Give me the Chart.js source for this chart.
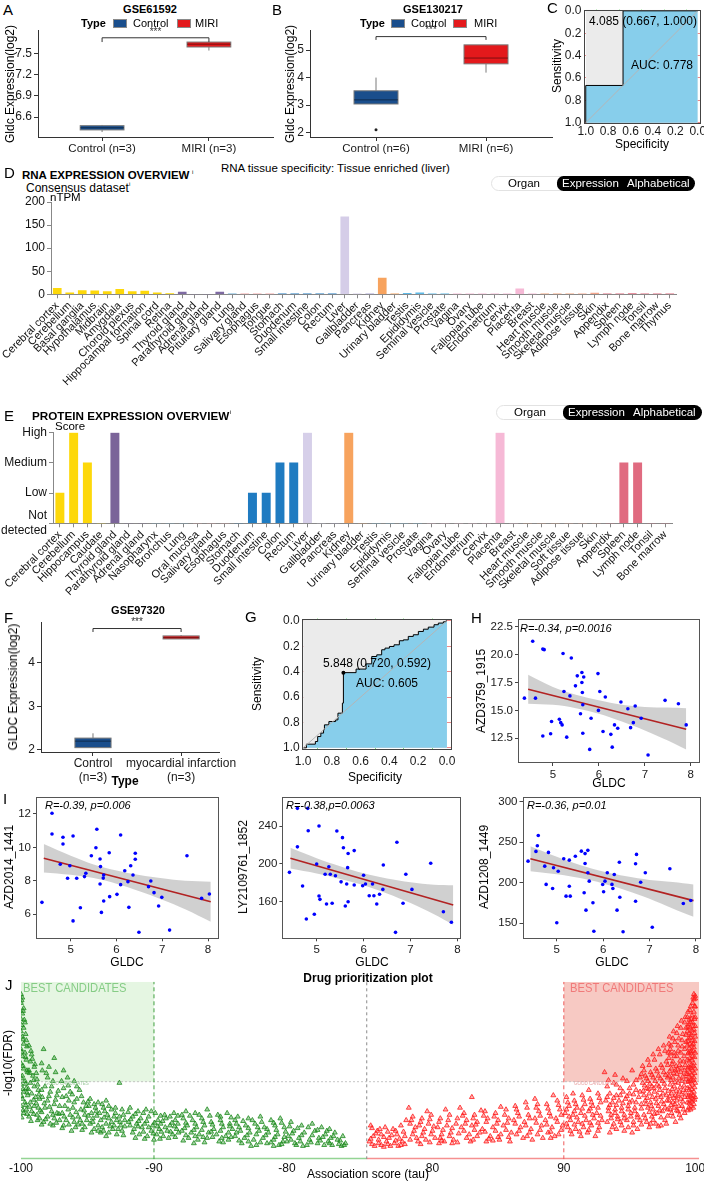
<!DOCTYPE html>
<html><head><meta charset="utf-8">
<script src="https://cdn.jsdelivr.net/npm/chart.js@4.4.1/dist/chart.umd.min.js"></script>
<style>
html,body{margin:0;padding:0;background:#fff}
body{position:relative;width:704px;height:1181px;overflow:hidden;font-family:"Liberation Sans",Arial,sans-serif;color:#000}
canvas{position:absolute}
.t{position:absolute;white-space:nowrap;line-height:1}
.key{position:absolute;box-sizing:border-box;border:1px solid #8a8a8a;width:14px;height:9px}
.pill{position:absolute;box-sizing:border-box;height:15px}
</style></head><body>
<script>
Chart.defaults.font.family='"Liberation Sans", Arial, sans-serif';
Chart.defaults.font.size=12;
Chart.defaults.color='#1a1a1a';
Chart.defaults.animation=false;

// ---------- A, B, F : box plots (lo, q1, median, q3, hi) ----------
const groupsA=['Control (n=3)','MIRI (n=3)'];
const statsA=[[6.39,6.42,6.45,6.48,6.49],[7.54,7.59,7.63,7.66,7.66]];
const ticksA=[6.6,6.9,7.2,7.5];
const bracketA=[7.72,7.66];

const groupsB=['Control (n=6)','MIRI (n=6)'];
const statsB=[[3.04,3.04,3.19,3.52,4.0],[4.18,4.5,4.71,5.19,5.19]];
const outliersB=[[1,2.1]];
const ticksB=[2,3,4,5];
const bracketB=[5.49,5.37];

const groupsF=[['Control','(n=3)'],['myocardial infarction','(n=3)']];
const statsF=[[2.05,2.05,2.2,2.27,2.38],[4.55,4.55,4.58,4.62,4.64]];
const ticksF=[2,3,4];
const bracketF=[4.79,4.71];
const typeColors=['#1a4e8c','#e3191c'];

// ---------- C, G : ROC curves (specificity, plotted sensitivity axis) ----------
const rocC=[[1,1],[1,0.667],[0.667,0.667],[0.667,0],[0,0]];
const rocG=[[1,1],[0.977,1],[0.977,0.971],[0.915,0.971],[0.915,0.95],[0.899,0.95],[0.899,0.911],[0.877,0.911],[0.877,0.884],[0.858,0.884],[0.858,0.858],[0.852,0.858],[0.852,0.819],[0.821,0.819],[0.821,0.793],[0.774,0.793],[0.774,0.78],[0.758,0.78],[0.758,0.727],[0.727,0.727],[0.727,0.648],[0.72,0.648],[0.72,0.408],[0.632,0.408],[0.632,0.38],[0.5625,0.38],[0.5625,0.339],[0.523,0.339],[0.523,0.281],[0.488,0.281],[0.488,0.268],[0.454,0.268],[0.454,0.228],[0.431,0.228],[0.431,0.215],[0.4,0.215],[0.4,0.202],[0.368,0.202],[0.368,0.189],[0.331,0.189],[0.331,0.157],[0.303,0.157],[0.303,0.15],[0.269,0.15],[0.269,0.123],[0.234,0.123],[0.234,0.11],[0.199,0.11],[0.199,0.084],[0.164,0.084],[0.164,0.066],[0.13,0.066],[0.13,0.05],[0.09,0.05],[0.09,0.031],[0.06,0.031],[0.06,0.018],[0.025,0.018],[0.025,0.008],[0.007,0.008],[0.007,0],[0,0]];
const cutG=[0.72,0.408];
const rocTicks=[1,0.9,0.8,0.7,0.6,0.5,0.4,0.3,0.2,0.1,0];
const sensTicks=[0,0.2,0.4,0.6,0.8,1];

// ---------- D : RNA expression (nTPM) ----------
const rnaTissues=['Cerebral cortex','Cerebellum','Basal ganglia','Hypothalamus','Midbrain','Amygdala','Choroid plexus','Hippocampal formation','Spinal cord','Retina','Thyroid gland','Parathyroid gland','Adrenal gland','Pituitary gland','Lung','Salivary gland','Esophagus','Tongue','Stomach','Duodenum','Small intestine','Colon','Rectum','Liver','Gallbladder','Pancreas','Kidney','Urinary bladder','Testis','Epididymis','Seminal vesicle','Prostate','Vagina','Ovary','Fallopian tube','Endometrium','Cervix','Placenta','Breast','Heart muscle','Smooth muscle','Skeletal muscle','Adipose tissue','Skin','Appendix','Spleen','Lymph node','Tonsil','Bone marrow','Thymus'];
const rnaValues=[13,3,8,7.5,6,11,6,7,3,1.5,5,0,0,5,0.5,0.3,1.2,0.5,0.6,0.5,0.5,0.8,0.5,168,0.5,0.3,35,0.5,2,3,0.3,0.3,0.3,0.3,0.3,0.3,0.3,12,0.3,0.3,0.3,0.8,1,2.5,1,0.5,1.5,1,0.3,0.3];
const rnaTicks=[0,50,100,150,200];
const Y='#fdd80a',P='#7e6aa2',RS='#6baed6',PD='#f4a6a6',GI='#1f7bc1',LV='#d5cde8',PC='#a9a3d3',KD='#f7a35e',ML='#5dbae8',FM='#f6b9d6',MU='#f1a37d',SK='#f5a68c',IM='#e06b7f';
const rnaColors=[Y,Y,Y,Y,Y,Y,Y,Y,Y,Y,P,P,P,P,RS,PD,PD,PD,GI,GI,GI,GI,GI,LV,LV,PC,KD,KD,ML,ML,ML,ML,FM,FM,FM,FM,FM,FM,FM,MU,MU,MU,SK,SK,IM,IM,IM,IM,IM,IM];

// ---------- E : protein expression score ----------
const protTissues=['Cerebral cortex','Cerebellum','Hippocampus','Caudate','Thyroid gland','Parathyroid gland','Adrenal gland','Nasopharynx','Bronchus','Lung','Oral mucosa','Salivary gland','Esophagus','Stomach','Duodenum','Small intestine','Colon','Rectum','Liver','Gallbladder','Pancreas','Kidney','Urinary bladder','Testis','Epididymis','Seminal vesicle','Prostate','Vagina','Ovary','Fallopian tube','Endometrium','Cervix','Placenta','Breast','Heart muscle','Smooth muscle','Skeletal muscle','Soft tissue','Adipose tissue','Skin','Appendix','Spleen','Lymph node','Tonsil','Bone marrow'];
const protScores=[1,3,2,0,3,0,0,0,0,0,0,0,0,0,1,1,2,2,3,0,0,3,0,0,0,0,0,0,0,0,0,0,3,0,0,0,0,0,0,0,0,2,2,0,0];
const protLevels=[['Not','detected'],'Low','Medium','High'];
const P2='#7b6499',LV2='#d6cfe9',IM2='#e06b80';
const protColors=[Y,Y,Y,Y,P2,P2,P2,RS,RS,RS,PD,PD,PD,GI,GI,GI,GI,GI,LV2,LV2,PC,KD,KD,ML,ML,ML,ML,FM,FM,FM,FM,FM,FM,FM,MU,MU,MU,SK,SK,SK,IM2,IM2,IM2,IM2,IM2];

// ---------- H, I : correlation scatter (GLDC vs drug sensitivity) ----------
const gldcTicks=[5,6,7,8];
const ptsH=[[4.56,21.2],[4.78,20.5],[4.81,20.45],[5.22,20.1],[5.4,19.7],[5.53,18.1],[5.63,18.4],[5.63,17.5],[5.67,18.0],[5.49,17.2],[5.98,18.3],[5.64,16.6],[5.24,16.7],[6.02,16.7],[6.14,16.2],[4.38,16.1],[4.62,16.1],[5.37,16.3],[5.65,15.5],[5.99,15.0],[6.48,15.75],[6.63,15.15],[6.79,15.4],[6.92,14.3],[7.44,15.9],[7.73,15.6],[7.9,13.7],[5.6,14.7],[5.83,14.3],[5.14,14.2],[5.17,13.9],[4.97,14.0],[4.95,12.9],[4.78,12.7],[5.3,12.6],[5.2,13.7],[5.65,12.95],[6.09,13.1],[6.26,12.85],[6.34,13.7],[6.41,13.4],[6.69,13.45],[6.75,13.9],[5.8,11.5],[6.29,11.7],[7.07,11.0]];
const fitH=[[4.46,16.9],[7.9,13.3]];
const bandXH=[4.46,5.0,5.5,6.0,6.5,7.0,7.5,7.9];
const bandUpH=[18.2,17.1,16.4,15.9,15.5,15.3,15.25,15.2];
const bandLoH=[15.6,15.5,15.2,14.7,14.0,13.2,12.3,11.5];
const ticksH=[12.5,15,17.5,20,22.5];

const ptsI1=[[4.59,12.04],[4.59,10.8],[4.83,10.6],[4.83,10.2],[5.05,10.68],[5.57,11.08],[5.55,9.98],[5.45,9.5],[5.84,9.68],[6.09,10.74],[6.41,9.65],[6.41,9.29],[6.31,8.9],[7.54,9.5],[5.64,9.3],[5.65,8.85],[4.77,8.99],[4.98,8.9],[6.18,8.6],[6.36,8.35],[5.33,8.45],[5.3,8.25],[4.93,8.15],[5.13,8.15],[5.72,8.35],[5.71,8.16],[4.37,6.71],[5.21,6.39],[5.05,5.6],[5.64,7.81],[5.72,6.79],[5.67,6.11],[5.85,7.05],[6.01,7.19],[6.09,7.77],[6.25,7.95],[6.27,6.41],[6.7,7.65],[6.75,7.99],[6.82,7.29],[6.99,7.01],[6.92,6.49],[6.49,4.92],[7.16,5.05],[7.86,6.95],[8.03,7.21]];
const fitI1=[[4.41,9.35],[8.06,6.75]];
const bandXI1=[4.41,5.0,5.5,6.0,6.5,7.0,7.5,8.06];
const bandUpI1=[10.2,9.5,8.98,8.62,8.35,8.15,8.0,7.95];
const bandLoI1=[8.5,8.36,8.16,7.82,7.37,6.87,6.3,5.55];
const ticksI1=[6,8,10,12];

const ptsI2=[[4.59,258.7],[4.81,258.7],[4.82,235],[5.05,240],[4.59,218],[5.43,234.7],[5.55,227.7],[5.57,217],[5.67,211],[5.8,214],[6.71,222.8],[7.43,200.6],[6.42,198.8],[5.0,199.8],[5.26,197],[4.42,191],[5.18,189],[5.29,189],[5.4,187.5],[5.66,196],[6.0,188],[6.9,189],[4.7,176.6],[5.05,166],[5.07,162.5],[4.95,146.7],[4.78,141.7],[5.21,157.5],[5.33,158.3],[5.52,181],[5.64,178.7],[5.8,177.6],[5.98,176.9],[6.04,178.7],[6.19,178.7],[6.22,166.3],[6.12,166.3],[6.34,167.8],[6.28,157.5],[5.61,155.4],[5.67,160],[6.41,173],[6.84,158.3],[6.68,127.6],[7.03,173],[7.7,149.4],[7.87,138.2]];
const fitI2=[[4.44,205.9],[7.91,156.5]];
const bandXI2=[4.44,5.0,5.5,6.0,6.5,7.0,7.5,7.91];
const bandUpI2=[217,206,197.5,190,184.5,180.5,178,177.5];
const bandLoI2=[195,189.8,184.1,177.4,168.7,158.5,146.6,135.5];
const ticksI2=[160,200,240];

const ptsI3=[[4.6,258.4],[4.58,245.7],[4.55,238.7],[4.82,237.5],[4.38,226.7],[5.15,229.6],[5.27,227.9],[5.4,232.8],[5.53,239],[5.61,236],[5.67,240],[5.61,223.8],[5.67,212.3],[6.35,225.4],[6.7,223.5],[6.72,235],[6.91,212.3],[7.44,217.3],[4.74,220.5],[4.93,218.5],[5.03,214.3],[6.09,212.3],[6.24,210.2],[4.77,198],[4.91,193],[5.2,183.5],[5.29,183.5],[5.27,195.8],[5.59,187.7],[5.63,166.2],[5.7,202],[5.78,175.3],[6.01,188.9],[5.99,197.9],[6.04,202],[6.19,198],[6.21,193],[6.36,182.2],[6.3,166.2],[6.7,177.3],[6.81,200.7],[5.0,150.6],[5.8,140.2],[6.43,139.5],[7.06,145.2],[7.73,174.4],[7.89,178.1]];
const fitI3=[[4.43,229.6],[7.95,178]];
const bandXI3=[4.43,5.0,5.5,6.0,6.5,7.0,7.5,7.95];
const bandUpI3=[245,232,222,214,208,203.5,201,198];
const bandLoI3=[214.2,210.4,205.8,199.2,190.6,180.3,168.2,158];
const ticksI3=[150,200,250,300];

// ---------- J : drug prioritization (tau, -log10 FDR) ----------
const tauTicks=[-100,-90,-80,80,90,100];
const fdrCut=4.37;
const greenPts=[[-100,9.3],[-99.9,9.1],[-100,8.8],[-99.8,8.5],[-99.9,8.2],[-100,7.9],[-99.7,7.7],[-99.8,7.4],[-100,7.2],[-99.9,6.9],[-99.6,6.7],[-99.8,6.5],[-100,6.2],[-99.7,6.0],[-99.9,5.8],[-99.6,5.6],[-100,5.4],[-99.8,5.1],[-99.5,4.9],[-99.9,4.7],[-99.7,4.4],[-100,4.2],[-99.6,4.0],[-99.8,3.8],[-99.5,3.6],[-99.9,3.4],[-99.7,3.2],[-100,3.0],[-99.6,2.8],[-99.8,2.6],
[-99.4,6.4],[-99.2,5.9],[-99.3,5.5],[-99.0,5.2],[-99.4,5.0],[-99.1,4.7],[-98.8,4.5],[-99.3,4.3],[-99.0,4.1],[-98.7,3.9],[-99.2,3.7],[-98.9,3.5],[-98.6,3.4],[-99.3,3.2],[-99.0,3.0],[-98.7,2.9],[-99.2,2.7],[-98.8,2.5],[-99.4,2.4],[-98.6,2.3],
[-98.3,6.2],[-97.5,5.7],[-98.4,5.0],[-98.0,4.6],[-97.6,4.4],[-98.2,4.1],[-97.8,3.8],[-97.3,3.6],[-98.4,3.5],[-98.0,3.3],[-97.5,3.1],[-97.1,3.0],[-98.2,2.9],[-97.7,2.7],[-97.3,2.6],[-98.0,2.4],[-97.5,2.3],[-97.1,2.2],[-98.3,2.1],[-97.8,2.0],
[-96.8,5.0],[-96.5,4.6],[-96.0,4.4],[-96.8,4.0],[-96.3,3.8],[-95.6,3.9],[-96.9,3.5],[-96.4,3.3],[-95.8,3.4],[-95.3,3.2],[-96.7,3.0],[-96.1,2.9],[-95.5,2.8],[-96.9,2.6],[-96.3,2.5],[-95.7,2.4],[-95.2,2.5],[-96.6,2.2],[-96.0,2.1],[-95.4,2.0],[-96.8,1.9],[-95.9,1.8],[-95.2,1.8],
[-94.8,3.4],[-94.2,3.2],[-93.6,3.3],[-94.9,3.0],[-94.4,2.9],[-93.8,2.9],[-93.2,2.8],[-92.6,4.3],[-94.7,2.6],[-94.1,2.6],[-93.5,2.5],[-92.9,2.6],[-92.3,2.5],[-94.6,2.3],[-94.0,2.2],[-93.4,2.3],[-92.8,2.2],[-92.2,2.2],[-94.8,2.0],[-94.2,1.9],[-93.6,2.0],[-93.0,1.9],[-92.5,1.9],[-94.5,1.7],[-93.8,1.6],[-93.1,1.7],[-92.4,1.6],[-94.0,1.5],[-92.8,1.4],
[-91.8,2.9],[-91.2,2.7],[-90.6,2.8],[-89.9,2.6],[-89.2,2.5],[-88.5,2.6],[-91.6,2.4],[-91.0,2.3],[-90.4,2.4],[-89.7,2.2],[-89.1,2.3],[-88.4,2.2],[-91.9,2.1],[-91.3,2.0],[-90.7,2.0],[-90.1,1.9],[-89.5,2.0],[-88.8,1.9],[-88.2,2.0],[-91.5,1.7],[-90.9,1.8],[-90.2,1.6],[-89.6,1.7],[-89.0,1.6],[-88.3,1.7],[-91.1,1.4],[-90.5,1.3],[-89.8,1.4],[-89.3,1.3],[-88.6,1.4],[-90.0,1.1],[-88.9,1.2],
[-87.6,2.7],[-86.9,2.6],[-86.0,2.8],[-85.2,2.5],[-84.5,2.6],[-87.8,2.3],[-87.1,2.2],[-86.4,2.3],[-85.7,2.1],[-85.0,2.2],[-84.3,2.0],[-87.5,1.9],[-86.8,1.8],[-86.2,1.9],[-85.5,1.7],[-84.8,1.8],[-84.1,1.7],[-87.9,1.6],[-87.2,1.5],[-86.6,1.4],[-85.9,1.5],[-85.3,1.4],[-84.6,1.3],[-87.4,1.2],[-86.7,1.1],[-86.0,1.2],[-85.1,1.0],[-84.4,1.1],[-87.0,0.9],
[-83.7,2.4],[-82.9,2.3],[-82.0,2.4],[-81.2,2.2],[-80.5,2.3],[-83.8,2.0],[-83.1,1.9],[-82.4,2.0],[-81.7,1.8],[-80.9,1.9],[-80.2,1.8],[-83.5,1.6],[-82.8,1.5],[-82.1,1.6],[-81.4,1.5],[-80.7,1.4],[-83.9,1.3],[-83.2,1.2],[-82.5,1.1],[-81.8,1.2],[-81.0,1.1],[-80.3,1.0],[-83.4,0.9],[-82.3,0.8],[-81.5,0.9],[-80.6,0.8],
[-79.7,2.1],[-78.9,1.9],[-78.1,2.0],[-77.4,1.8],[-76.8,1.7],[-79.5,1.6],[-78.7,1.5],[-77.9,1.6],[-77.1,1.4],[-76.4,1.5],[-75.8,1.3],[-79.9,1.3],[-79.1,1.2],[-78.3,1.1],[-77.6,1.2],[-76.9,1.0],[-76.2,1.1],[-75.6,0.9],[-79.4,0.9],[-78.5,0.8],[-77.7,0.9],[-76.6,0.8],[-75.9,0.75],[-80.0,1.0],
[-99.95,8.95],[-99.85,8.35],[-99.75,7.85],[-99.95,7.55],[-99.65,7.05],[-99.85,6.75],[-99.55,6.35],[-99.95,6.05],[-99.65,5.75],[-99.85,5.25],[-99.55,5.0],[-99.95,4.55],[-99.65,4.25],[-99.85,3.95],[-99.55,3.75],[-99.95,3.55],[-99.65,3.05],[-99.85,2.75],[-99.55,2.55],[-99.95,2.35],
[-99.25,6.1],[-99.15,5.65],[-98.95,5.35],[-99.35,4.85],[-98.85,4.85],[-99.05,4.45],[-98.75,4.2],[-99.45,3.95],[-98.65,3.65],[-99.05,3.35],[-98.85,3.15],[-99.35,2.95],[-98.55,2.75],[-99.05,2.55],[-98.75,2.2],[-99.25,2.15],
[-98.45,5.4],[-97.9,5.2],[-98.1,4.85],[-97.4,4.9],[-97.7,4.1],[-98.45,3.9],[-97.2,3.85],[-97.9,3.55],[-98.25,3.15],[-97.4,3.35],[-97.85,2.95],[-98.45,2.65],[-97.15,2.55],[-97.6,2.5],[-98.15,2.25],[-97.35,2.05],[-98.45,1.95],[-97.6,1.9],
[-96.95,4.4],[-96.45,4.15],[-95.8,4.1],[-96.15,3.65],[-95.45,3.55],[-96.6,3.55],[-96.0,3.2],[-95.1,3.0],[-96.45,2.8],[-95.85,2.65],[-95.25,2.75],[-96.75,2.4],[-96.1,2.35],[-95.55,2.2],[-95.05,2.2],[-96.4,1.95],[-95.7,1.95],[-96.9,1.75],[-95.4,1.65],[-96.2,1.6],
[-94.95,3.25],[-94.5,3.1],[-93.9,3.1],[-93.4,3.0],[-92.9,2.9],[-92.4,2.8],[-94.35,2.7],[-93.7,2.7],[-93.0,2.4],[-92.6,2.4],[-94.95,2.45],[-94.3,2.45],[-93.75,2.35],[-93.2,2.1],[-92.55,2.1],[-94.6,2.1],[-93.9,1.8],[-93.3,1.85],[-92.7,1.7],[-92.2,1.85],[-94.7,1.5],[-94.2,1.6],[-93.4,1.5],[-92.3,1.35],[-93.6,1.3],
[-91.95,2.65],[-91.4,2.55],[-90.8,2.6],[-90.2,2.7],[-89.5,2.45],[-88.8,2.4],[-88.2,2.45],[-91.75,2.25],[-91.15,2.15],[-90.55,2.15],[-89.95,2.05],[-89.35,2.15],[-88.65,2.05],[-91.8,1.9],[-91.2,1.85],[-90.4,1.8],[-89.75,1.85],[-89.15,1.8],[-88.45,1.85],[-91.6,1.5],[-90.8,1.55],[-90.05,1.45],[-89.45,1.55],[-88.75,1.55],[-88.15,1.5],[-90.7,1.15],[-89.55,1.15],[-88.4,1.25],[-91.4,1.2],
[-87.9,2.5],[-87.3,2.45],[-86.6,2.5],[-85.8,2.45],[-85.0,2.4],[-84.2,2.35],[-87.6,2.05],[-86.9,2.0],[-86.3,2.1],[-85.6,1.95],[-84.9,2.0],[-84.3,1.85],[-87.7,1.75],[-87.0,1.65],[-86.4,1.65],[-85.7,1.55],[-85.0,1.6],[-84.4,1.5],[-87.6,1.35],[-86.9,1.3],[-86.3,1.25],[-85.6,1.25],[-84.9,1.2],[-84.2,1.25],[-86.2,0.95],[-84.8,0.95],[-87.8,1.05],
[-83.9,2.2],[-83.3,2.15],[-82.6,2.2],[-81.9,2.1],[-81.0,2.05],[-80.4,2.05],[-83.6,1.8],[-82.9,1.75],[-82.2,1.8],[-81.5,1.7],[-80.8,1.65],[-80.1,1.55],[-83.8,1.5],[-83.0,1.35],[-82.3,1.4],[-81.6,1.35],[-80.9,1.25],[-80.2,1.25],[-83.6,1.05],[-82.9,1.0],[-82.0,0.95],[-81.2,0.95],[-80.4,0.85],[-82.7,0.75],[-81.0,0.75],
[-79.8,1.85],[-79.2,1.75],[-78.4,1.8],[-77.7,1.65],[-77.0,1.6],[-76.5,1.3],[-79.6,1.45],[-78.9,1.35],[-78.1,1.35],[-77.3,1.25],[-76.7,1.2],[-76.0,1.05],[-79.7,1.1],[-79.0,1.0],[-78.2,0.95],[-77.5,1.05],[-76.8,0.9],[-76.1,0.85],[-78.8,0.75],[-77.2,0.8],[-75.7,0.8],[-79.3,0.8]];
const redPts=[[75.3,1.9],[75.8,1.6],[76.4,1.8],[77.0,1.7],[77.6,1.9],[75.5,1.3],[76.1,1.4],[76.7,1.2],[77.3,1.4],[77.9,1.3],[75.2,1.0],[75.9,0.9],[76.5,1.0],[77.1,0.9],[77.7,1.0],[75.6,0.75],[76.3,0.7],[77.4,0.75],[78.2,2.9],[78.0,2.2],
[78.5,2.4],[79.2,2.3],[79.9,2.5],[80.6,2.3],[81.3,2.5],[78.3,2.0],[79.0,1.9],[79.7,2.0],[80.4,1.8],[81.1,1.9],[81.8,2.0],[78.6,1.6],[79.3,1.5],[80.0,1.6],[80.7,1.4],[81.4,1.5],[78.8,1.2],[79.5,1.1],[80.2,1.2],[80.9,1.0],[81.6,1.1],[79.1,0.85],[80.5,0.9],[81.9,0.95],
[82.1,2.9],[83.0,3.5],[82.4,2.6],[83.2,2.5],[84.0,2.7],[84.8,2.6],[85.6,2.8],[82.6,2.2],[83.4,2.1],[84.2,2.3],[85.0,2.2],[85.8,2.3],[82.2,1.8],[83.0,1.9],[83.8,1.7],[84.6,1.8],[85.4,1.9],[82.8,1.4],[83.6,1.5],[84.4,1.3],[85.2,1.4],[86.0,1.5],[83.1,1.1],[84.1,1.0],[85.1,1.1],[85.9,1.0],
[86.3,3.0],[87.1,3.2],[87.9,2.9],[88.7,3.1],[89.5,3.3],[86.5,2.6],[87.3,2.5],[88.1,2.7],[88.9,2.6],[89.7,2.8],[86.2,2.2],[87.0,2.1],[87.8,2.3],[88.6,2.2],[89.4,2.3],[86.7,1.8],[87.5,1.7],[88.3,1.9],[89.1,1.8],[89.9,1.9],[86.4,1.4],[87.2,1.3],[88.0,1.4],[88.8,1.5],[89.6,1.4],[87.6,1.1],[89.0,1.2],
[90.2,3.5],[90.8,3.3],[91.4,3.6],[92.0,3.4],[92.6,3.7],[90.4,3.0],[91.0,2.9],[91.6,3.1],[92.2,3.0],[92.8,3.2],[90.1,2.6],[90.7,2.5],[91.3,2.6],[91.9,2.7],[92.5,2.6],[90.5,2.2],[91.1,2.1],[91.7,2.2],[92.3,2.3],[92.9,2.2],[90.3,1.8],[90.9,1.7],[91.5,1.8],[92.1,1.9],[92.7,1.8],[90.6,1.4],[91.8,1.5],[92.4,1.3],[93.1,4.9],
[93.3,4.1],[93.8,4.3],[94.3,4.0],[94.8,4.4],[95.3,4.2],[95.8,4.6],[93.5,3.7],[94.0,3.6],[94.5,3.8],[95.0,3.7],[95.5,3.9],[93.2,3.3],[93.7,3.2],[94.2,3.3],[94.7,3.4],[95.2,3.3],[95.7,3.5],[93.4,2.9],[93.9,2.8],[94.4,2.9],[94.9,3.0],[95.4,2.9],[95.9,3.1],[93.6,2.5],[94.1,2.4],[94.6,2.5],[95.1,2.6],[95.6,2.5],[93.3,2.1],[93.8,2.0],[94.3,2.1],[94.8,2.2],[95.3,2.1],[95.8,2.2],[94.0,1.7],[94.9,1.8],[95.6,1.7],[93.5,1.5],[95.2,1.5],
[96.1,5.0],[96.5,5.3],[96.9,5.6],[97.3,5.9],[97.7,6.1],[96.2,4.7],[96.6,4.9],[97.0,5.1],[97.4,5.3],[97.8,5.5],[96.0,4.3],[96.4,4.4],[96.8,4.6],[97.2,4.7],[97.6,4.9],[96.3,4.0],[96.7,4.1],[97.1,4.2],[97.5,4.4],[97.9,4.6],[96.1,3.6],[96.5,3.7],[96.9,3.8],[97.3,3.9],[97.7,4.0],[96.2,3.3],[96.6,3.2],[97.0,3.4],[97.4,3.5],[97.8,3.6],[96.4,2.9],[96.8,2.8],[97.2,3.0],[97.6,3.1],[96.1,2.5],[96.7,2.4],[97.1,2.6],[97.5,2.7],[97.9,2.8],[96.3,2.1],[97.0,2.0],[97.7,2.2],[96.5,1.8],[97.4,1.9],
[98.0,6.5],[98.3,6.8],[98.6,7.1],[98.9,7.4],[99.2,7.7],[98.1,6.2],[98.4,6.0],[98.7,6.4],[99.0,6.7],[99.3,7.0],[98.0,5.7],[98.3,5.5],[98.6,5.8],[98.9,6.0],[99.2,6.2],[98.2,5.1],[98.5,5.0],[98.8,5.3],[99.1,5.5],[98.0,4.7],[98.3,4.6],[98.6,4.8],[98.9,4.9],[99.2,5.0],[98.1,4.2],[98.4,4.1],[98.7,4.3],[99.0,4.4],[99.3,4.5],[98.2,3.7],[98.5,3.6],[98.8,3.8],[99.1,3.9],[98.0,3.3],[98.3,3.2],[98.6,3.3],[98.9,3.4],[99.2,3.5],[98.1,2.8],[98.4,2.9],[98.7,2.7],[99.0,3.0],[98.3,2.4],[98.8,2.5],[99.2,2.6],[98.5,2.1],
[99.4,8.0],[99.6,8.4],[99.8,8.8],[100,9.2],[99.9,9.0],[99.5,7.6],[99.7,7.9],[99.9,8.3],[100,8.6],[99.4,7.2],[99.6,7.4],[99.8,7.7],[100,8.0],[99.5,6.8],[99.7,7.0],[99.9,7.3],[100,7.5],[99.4,6.4],[99.6,6.5],[99.8,6.7],[100,6.9],[99.5,6.0],[99.7,6.1],[99.9,6.3],[99.4,5.6],[99.6,5.7],[99.8,5.8],[100,6.0],[99.5,5.2],[99.7,5.3],[99.9,5.4],[99.4,4.8],[99.6,4.9],[99.8,5.0],[100,5.1],[99.5,4.4],[99.7,4.5],[99.9,4.6],[99.4,4.0],[99.6,4.1],[99.8,4.2],[100,4.3],[99.5,3.6],[99.7,3.7],[99.9,3.8],[99.4,3.2],[99.6,3.3],[99.8,3.4],[100,3.5],[99.5,2.9],[99.7,3.0],[99.9,3.1],
[75.4,1.75],[76.0,1.7],[76.6,1.55],[77.2,1.6],[77.8,1.55],[75.7,1.45],[76.3,1.25],[76.9,1.35],[77.5,1.15],[75.3,1.15],[75.9,1.1],[76.6,0.85],[77.2,1.05],[77.9,0.85],[75.4,0.85],[76.1,0.8],[76.8,0.75],[77.6,0.8],
[78.4,2.2],[79.1,2.1],[79.8,2.25],[80.5,2.1],[81.2,2.2],[81.9,2.3],[78.7,1.8],[79.4,1.7],[80.1,1.85],[80.8,1.65],[81.5,1.75],[78.5,1.4],[79.2,1.3],[79.9,1.4],[80.6,1.2],[81.3,1.3],[82.0,1.45],[78.9,1.0],[79.8,0.95],[80.7,1.05],[81.5,0.9],[78.3,1.1],[79.6,2.7],[81.0,2.8],
[82.3,2.45],[83.1,2.3],[83.9,2.45],[84.7,2.4],[85.5,2.5],[82.5,2.0],[83.3,1.95],[84.1,2.1],[84.9,2.0],[85.7,2.05],[82.4,1.6],[83.2,1.65],[84.0,1.55],[84.8,1.6],[85.6,1.65],[82.6,1.2],[83.4,1.3],[84.3,1.15],[85.0,1.25],[85.8,1.25],[82.9,1.0],[84.6,1.05],[83.7,2.75],[85.2,2.95],
[86.4,2.8],[87.2,2.9],[88.0,3.1],[88.8,2.85],[89.6,3.05],[86.6,2.4],[87.4,2.3],[88.2,2.45],[89.0,2.4],[89.8,2.5],[86.3,2.0],[87.1,1.9],[87.9,2.05],[88.7,1.95],[89.5,2.1],[86.6,1.6],[87.4,1.5],[88.2,1.65],[89.0,1.55],[89.8,1.65],[86.9,1.2],[88.4,1.2],[89.3,1.3],[87.8,3.4],[89.2,3.6],
[90.3,3.2],[90.9,3.1],[91.5,3.35],[92.1,3.2],[92.7,3.45],[90.2,2.8],[90.8,2.7],[91.4,2.85],[92.0,2.85],[92.6,2.9],[90.4,2.4],[91.0,2.35],[91.6,2.45],[92.2,2.5],[92.8,2.45],[90.2,2.0],[90.8,1.95],[91.4,2.0],[92.0,2.05],[92.6,2.05],[90.5,1.6],[91.2,1.55],[91.9,1.65],[92.6,1.6],[91.3,1.3],[90.7,3.7],[91.9,3.9],
[93.4,4.45],[94.0,4.2],[94.5,4.55],[95.0,4.0],[95.5,4.45],[95.9,4.8],[93.3,3.5],[93.8,3.45],[94.3,3.6],[94.8,3.55],[95.3,3.65],[95.8,3.8],[93.5,3.05],[94.0,3.05],[94.5,3.15],[95.0,3.2],[95.5,3.2],[93.4,2.7],[93.9,2.6],[94.4,2.7],[94.9,2.8],[95.4,2.7],[95.9,2.85],[93.6,2.3],[94.1,2.25],[94.6,2.3],[95.1,2.4],[95.6,2.35],[93.7,1.8],[94.4,1.9],[95.3,1.9],[95.9,1.95],[94.6,1.6],[93.9,4.75],[95.2,5.0],
[96.0,5.25],[96.4,5.6],[96.8,5.9],[97.2,6.2],[97.6,6.4],[97.95,6.0],[96.3,4.55],[96.7,4.75],[97.1,4.95],[97.5,5.15],[97.9,5.3],[96.15,4.15],[96.55,4.25],[96.95,4.4],[97.35,4.55],[97.75,4.75],[96.05,3.85],[96.45,3.95],[96.85,4.0],[97.25,4.1],[97.65,4.25],[96.35,3.45],[96.75,3.5],[97.15,3.6],[97.55,3.7],[97.95,3.85],[96.25,3.1],[96.65,3.0],[97.05,3.15],[97.45,3.25],[97.85,3.3],[96.5,2.65],[96.9,2.55],[97.3,2.75],[97.7,2.9],[96.2,2.3],[96.8,2.2],[97.4,2.35],[97.9,2.45],[96.6,2.0],[97.2,1.85],[97.8,2.0],
[98.05,6.9],[98.35,7.2],[98.65,7.5],[98.95,7.8],[99.25,8.0],[98.15,6.4],[98.45,6.6],[98.75,6.8],[99.05,7.05],[99.3,7.4],[98.1,5.95],[98.4,5.8],[98.7,6.1],[99.0,6.35],[99.3,6.6],[98.25,5.35],[98.55,5.25],[98.85,5.55],[99.15,5.8],[98.05,4.95],[98.35,4.85],[98.65,5.05],[98.95,5.15],[99.25,5.3],[98.15,4.45],[98.45,4.35],[98.75,4.55],[99.05,4.65],[99.3,4.8],[98.25,3.95],[98.55,3.85],[98.85,4.05],[99.15,4.15],[98.05,3.55],[98.35,3.45],[98.65,3.55],[98.95,3.65],[99.25,3.75],[98.15,3.05],[98.45,3.1],[98.75,3.0],[99.05,3.25],[98.2,2.6],[98.6,2.75],[99.1,2.8],[98.9,2.3],
[99.45,8.3],[99.65,8.6],[99.85,9.1],[99.95,8.6],[99.55,7.85],[99.75,8.1],[99.95,7.9],[99.45,7.45],[99.65,7.7],[99.85,7.5],[99.55,7.1],[99.75,7.25],[99.95,7.1],[99.45,6.65],[99.65,6.85],[99.85,6.5],[99.55,6.25],[99.75,6.4],[99.95,6.65],[99.45,5.95],[99.65,6.0],[99.85,6.1],[99.55,5.5],[99.75,5.6],[99.95,5.75],[99.45,5.1],[99.65,5.15],[99.85,5.25],[99.55,4.65],[99.75,4.75],[99.95,4.85],[99.45,4.35],[99.65,4.4],[99.85,4.45],[99.55,3.9],[99.75,3.95],[99.95,4.05],[99.45,3.5],[99.65,3.55],[99.85,3.6],[99.55,3.15],[99.75,3.25],[99.95,3.35],[99.45,2.75],[99.65,2.8],[99.85,2.9],[99.9,9.3],[100,9.05]];

// ================= helpers =================
function panel(box,plot,cfg){
 const [x,y,w,h]=box,[l,t,r,b]=plot;
 const c=document.createElement('canvas');
 c.width=w;c.height=h;c.style.left=x+'px';c.style.top=y+'px';
 document.body.appendChild(c);
 const o=cfg.options,s=o.scales;
 o.responsive=false;o.animation=false;o.events=[];
 o.plugins=Object.assign({legend:{display:false},tooltip:{enabled:false}},o.plugins||{});
 o.layout={padding:{left:s.y.display===false?l-x:0,top:t-y,right:x+w-r,bottom:s.x.display===false?y+h-b:0}};
 if(s.x.display!==false) s.x.afterFit=sc=>{sc.height=y+h-b;sc.paddingLeft=0;sc.paddingRight=0;};
 if(s.y.display!==false) s.y.afterFit=sc=>{sc.width=l-x;sc.paddingTop=0;sc.paddingBottom=0;};
 return new Chart(c,cfg);
}
function txt(s,x,y,o){
 o=o||{};const d=document.createElement('div');d.className='t';d.textContent=s;
 d.style.left=x+'px';d.style.top=y+'px';d.style.fontSize=(o.size||12)+'px';
 if(o.bold)d.style.fontWeight='bold';if(o.italic)d.style.fontStyle='italic';if(o.color)d.style.color=o.color;
 const ax=o.align==='l'?'0':o.align==='r'?'-100%':'-50%';
 d.style.transformOrigin=o.align==='l'?'left center':'center center';
 d.style.transform='translate('+ax+',-50%)'+(o.rot?' rotate('+o.rot+'deg)':'')+(o.sx?' scaleX('+o.sx+')':'');
 document.body.appendChild(d);return d;
}
function key(x,y,color){const d=document.createElement('div');d.className='key';d.style.left=x+'px';d.style.top=(y-4.5)+'px';d.style.background=color;document.body.appendChild(d);}
function pills(x0,x1,x2,y){
 const a=document.createElement('div');a.className='pill';
 Object.assign(a.style,{left:x0+'px',top:y+'px',width:(x1-x0+8)+'px',border:'1px solid #e2e2e2',borderRadius:'8px 0 0 8px',background:'#fff'});
 const b=document.createElement('div');b.className='pill';
 Object.assign(b.style,{left:x1+'px',top:y+'px',width:(x2-x1)+'px',background:'#000',borderRadius:'7px 8px 8px 7px'});
 document.body.appendChild(a);document.body.appendChild(b);
}
const pts=a=>a.map(p=>({x:p[0],y:p[1]}));
const setTicks=list=>sc=>{sc.ticks=list.map(v=>({value:v}));};

const frame={id:'frame',afterDatasetsDraw(ch,a,o){
 const {ctx,chartArea:c}=ch;ctx.save();ctx.strokeStyle=o.color||'#555';ctx.lineWidth=1;
 ctx.strokeRect(Math.round(c.left)+0.5,Math.round(c.top)+0.5,Math.round(c.width)-1,Math.round(c.height)-1);ctx.restore();}};

const boxPlot={id:'boxPlot',afterDatasetsDraw(ch,a,o){
 const {ctx,scales:{x,y}}=ch;ctx.save();ctx.lineWidth=1;
 o.stats.forEach((s,i)=>{
  const cx=x.getPixelForValue(i+1),half=x.getPixelForValue(i+1+o.width/2)-cx;
  const [lo,q1,md,q3,hi]=s.map(v=>y.getPixelForValue(v));
  ctx.strokeStyle='#7a7a7a';
  ctx.beginPath();ctx.moveTo(cx,lo);ctx.lineTo(cx,q1);ctx.moveTo(cx,q3);ctx.lineTo(cx,hi);ctx.stroke();
  ctx.fillStyle=o.colors[i];ctx.fillRect(cx-half,q3,2*half,Math.max(q1-q3,1));
  ctx.strokeRect(cx-half,q3,2*half,Math.max(q1-q3,1));
  ctx.strokeStyle='rgba(0,0,0,0.45)';ctx.beginPath();ctx.moveTo(cx-half,md);ctx.lineTo(cx+half,md);ctx.stroke();
 });
 const x1=x.getPixelForValue(1),x2=x.getPixelForValue(2),yt=y.getPixelForValue(o.bracket[0]),yd=y.getPixelForValue(o.bracket[1]);
 ctx.strokeStyle='#333';ctx.beginPath();ctx.moveTo(x1,yd);ctx.lineTo(x1,yt);ctx.lineTo(x2,yt);ctx.lineTo(x2,yd);ctx.stroke();
 ctx.fillStyle='#333';ctx.font='10px "Liberation Sans", Arial';ctx.textAlign='center';ctx.textBaseline='bottom';
 ctx.fillText('***',(x1+x2)/2,yt-1);ctx.restore();}};

function boxChart(box,plot,groups,stats,xr,yr,yTicks,fmt,bracket,width,outliers,labelSize){
 return panel(box,plot,{type:'line',data:{datasets:[{data:pts(outliers||[]),showLine:false,pointRadius:1.5,pointBackgroundColor:'#222',pointBorderWidth:0}]},
  options:{plugins:{boxPlot:{stats,colors:typeColors,bracket,width}},
   scales:{x:{type:'linear',min:xr[0],max:xr[1],afterBuildTicks:setTicks([1,2]),
     ticks:{callback:(v,i)=>groups[i],autoSkip:false,maxRotation:0,padding:labelSize?0:1,font:{size:labelSize||11.5},color:'#1a1a1a'},
     grid:{drawOnChartArea:false,tickLength:4,color:'#333'},border:{color:'#333'}},
    y:{min:yr[0],max:yr[1],afterBuildTicks:setTicks(yTicks),ticks:{callback:fmt,autoSkip:false,padding:2,font:{size:12},color:'#1a1a1a'},
     grid:{drawOnChartArea:false,tickLength:4,color:'#333'},border:{color:'#333'}}}},
  plugins:[boxPlot]});
}

function rocChart(box,plot,curve,xr,yr,cut,labelPad){
 return panel(box,plot,{type:'line',data:{datasets:[
   {data:cut?pts([cut]):[],showLine:false,pointRadius:2,pointBackgroundColor:'#000',pointBorderWidth:0},
   {data:pts([[1,1],[0,0]]),borderColor:'#b5b5b5',borderWidth:1,pointRadius:0},
   {data:pts(curve),borderColor:'#000',borderWidth:1,pointRadius:0,fill:{value:1},backgroundColor:'#87ceeb'},
   {data:pts([[1,0],[0,0]]),borderColor:'#ebebeb',borderWidth:2,pointRadius:0,fill:{value:1},backgroundColor:'#ebebeb'}]},
  options:{plugins:{frame:{color:'#444'}},
   scales:{x:{type:'linear',reverse:true,min:xr[0],max:xr[1],afterBuildTicks:setTicks(rocTicks),
     ticks:{callback:(v,i)=>i%2===0?v.toFixed(1):'',autoSkip:false,maxRotation:0,padding:labelPad,font:{size:12},color:'#1a1a1a'},
     grid:{drawTicks:false,color:c=>(Math.round(c.tick.value*10)%2?'#7de07d':'rgba(0,0,0,0)')},border:{display:false}},
    y:{type:'linear',reverse:true,min:yr[0],max:yr[1],afterBuildTicks:setTicks(sensTicks),
     ticks:{callback:v=>v.toFixed(1),autoSkip:false,padding:2,font:{size:12},color:'#1a1a1a'},
     grid:{drawTicks:false,color:'#f08a8a'},border:{display:false}}}},
  plugins:[frame]});
}

function corrChart(box,plot,p,fit,bx,bu,bl,xr,yr,yTicks,fmt){
 return panel(box,plot,{type:'line',data:{datasets:[
   {data:pts(p),showLine:false,pointRadius:1.8,pointBackgroundColor:'#0000ff',pointBorderWidth:0},
   {data:pts(fit),borderColor:'#b22222',borderWidth:1.6,pointRadius:0},
   {data:bx.map((v,i)=>({x:v,y:bu[i]})),borderColor:'rgba(0,0,0,0)',pointRadius:0,tension:0.35,fill:'+1',backgroundColor:'rgba(150,150,150,0.45)'},
   {data:bx.map((v,i)=>({x:v,y:bl[i]})),borderColor:'rgba(0,0,0,0)',pointRadius:0,tension:0.35}]},
  options:{plugins:{frame:{color:'#555'}},
   scales:{x:{type:'linear',min:xr[0],max:xr[1],afterBuildTicks:setTicks(gldcTicks),
     ticks:{autoSkip:false,maxRotation:0,padding:2,font:{size:11.5},color:'#1a1a1a'},
     grid:{drawOnChartArea:false,tickLength:3,color:'#444'},border:{display:false}},
    y:{min:yr[0],max:yr[1],afterBuildTicks:setTicks(yTicks),
     ticks:{callback:fmt,autoSkip:false,padding:2,font:{size:11.5},color:'#1a1a1a'},
     grid:{drawOnChartArea:false,tickLength:3,color:'#444'},border:{display:false}}}},
  plugins:[frame]});
}

// ================= A =================
boxChart([0,20,285,140],[38,30,273,137],groupsA,statsA,[0.4,2.6],[6.32,7.83],ticksA,v=>v.toFixed(1),bracketA,0.41);
txt('A',3,9,{size:15,align:'l'});
txt('GSE61592',150,9,{size:11,bold:true});
txt('Type',81,23,{size:11,bold:true,align:'l'});key(113,23,typeColors[0]);txt('Control',133,23,{size:11,align:'l'});
key(177,23,typeColors[1]);txt('MIRI',195,23,{size:11,align:'l'});
txt('Gldc Expression(log2)',10,84,{size:12,rot:-90});

// ================= B =================
boxChart([275,20,285,140],[310,30,552,137],groupsB,statsB,[0.4,2.6],[1.84,5.73],ticksB,v=>String(v),bracketB,0.4,outliersB);
txt('B',272,9,{size:15,align:'l'});
txt('GSE130217',433,9,{size:11,bold:true});
txt('Type',360,23,{size:11,bold:true,align:'l'});key(391,23,typeColors[0]);txt('Control',411,23,{size:11,align:'l'});
key(453,23,typeColors[1]);txt('MIRI',474,23,{size:11,align:'l'});
txt('Gldc Expression(log2)',290,84,{size:12,rot:-90});

// ================= C =================
rocChart([540,0,164,150],[583.5,9.5,700,123.5],rocC,[-0.02,1.02],[-0.012,1.007],null,1);
txt('C',547,7,{size:15,align:'l'});
txt('Sensitivity',557,66,{size:12,rot:-90});
txt('Specificity',642,144,{size:12});
txt('4.085 (0.667, 1.000)',643,21,{size:12});
txt('AUC: 0.778',662,65,{size:12});

// ================= D =================
panel([0,195,704,215],[51,202,676,294.3],{type:'bar',
 data:{labels:rnaTissues,datasets:[{data:rnaValues,backgroundColor:rnaColors,barThickness:8}]},
 options:{scales:{
  x:{ticks:{autoSkip:false,minRotation:45,maxRotation:45,padding:1,font:{size:11},color:'#111'},grid:{offset:false,drawOnChartArea:false,tickLength:4,color:'#888'},border:{color:'#888'}},
  y:{min:0,max:200,afterBuildTicks:setTicks(rnaTicks),ticks:{autoSkip:false,padding:2,font:{size:12},color:'#111'},grid:{drawOnChartArea:false,tickLength:4,color:'#888'},border:{color:'#888'}}}}});
txt('D',4,172,{size:15,align:'l'});
txt('RNA EXPRESSION OVERVIEW',22,176,{size:11.5,bold:true,align:'l'});txt('i',192,172,{size:6,align:'l'});
txt('RNA tissue specificity: Tissue enriched (liver)',221,169,{size:11.5,align:'l'});
txt('Consensus dataset',26,188,{size:12,align:'l'});txt('i',129,184,{size:6,align:'l'});
txt('nTPM',50,198,{size:11.5,align:'l'});
pills(491,557,695,176);
txt('Organ',508,183.5,{size:11.5,align:'l'});
txt('Expression',562,183.5,{size:11.5,align:'l',color:'#fff'});
txt('Alphabetical',627,183.5,{size:11.5,align:'l',color:'#fff'});

// ================= E =================
panel([0,425,704,185],[53,432.7,672,523.3],{type:'bar',
 data:{labels:protTissues,datasets:[{data:protScores,backgroundColor:protColors,barThickness:8.3}]},
 options:{scales:{
  x:{ticks:{autoSkip:false,minRotation:45,maxRotation:45,padding:1,font:{size:11},color:'#111'},grid:{offset:false,drawOnChartArea:false,tickLength:4,color:'#888'},border:{color:'#888'}},
  y:{min:0,max:3,afterBuildTicks:setTicks([0,1,2,3]),ticks:{callback:v=>protLevels[v],autoSkip:false,padding:2,font:{size:12},color:'#111'},grid:{drawOnChartArea:false,tickLength:4,color:'#888'},border:{color:'#888'}}}}});
txt('E',4,415,{size:15,align:'l'});
txt('PROTEIN EXPRESSION OVERVIEW',32,416,{size:11.7,bold:true,align:'l'});txt('i',230,412,{size:6,align:'l'});
txt('Score',55,427,{size:11.5,align:'l'});
pills(496,563,702,405);
txt('Organ',514,412.5,{size:11.5,align:'l'});
txt('Expression',568,412.5,{size:11.5,align:'l',color:'#fff'});
txt('Alphabetical',633,412.5,{size:11.5,align:'l',color:'#fff'});

// ================= F =================
boxChart([0,612,240,178],[41,622,219,752],groupsF,statsF,[0.41,2.43],[1.95,4.94],ticksF,v=>String(v),bracketF,0.41,null,12);
txt('F',4,617,{size:15,align:'l'});
txt('GSE97320',138,610,{size:11,bold:true});
txt('GLDC Expression(log2)',13,687,{size:12,rot:-90});
txt('Type',125,781,{size:12,bold:true});

// ================= G =================
rocChart([230,605,240,180],[301.7,618.5,452,749.5],rocG,[-0.035,1.01],[-0.018,1.013],cutG,5);
txt('G',245,616,{size:15,align:'l'});
txt('Sensitivity',257,684,{size:12,rot:-90});
txt('Specificity',375,777,{size:12});
txt('5.848 (0.720, 0.592)',377,663,{size:12});
txt('AUC: 0.605',387,683,{size:12});

// ================= H =================
corrChart([460,612,244,180],[518,619,700,763],ptsH,fitH,bandXH,bandUpH,bandLoH,[4.24,8.2],[10.28,23.2],ticksH,v=>v.toFixed(1));
txt('H',471,617,{size:15,align:'l'});
txt('R=-0.34, p=0.0016',520,628,{size:11,italic:true,align:'l'});
txt('AZD3759_1915',481,691,{size:12,rot:-90});
txt('GLDC',609,783,{size:12});

// ================= I =================
corrChart([0,790,240,180],[36,796.7,219,938.3],ptsI1,fitI1,bandXI1,bandUpI1,bandLoI1,[4.24,8.24],[4.56,13.03],ticksI1,v=>String(v));
corrChart([230,790,240,180],[282.4,796.7,461.7,938.3],ptsI2,fitI2,bandXI2,bandUpI2,bandLoI2,[4.27,8.09],[121.3,271],ticksI2,v=>String(v));
corrChart([470,790,234,180],[522.5,796.7,701.4,938.3],ptsI3,fitI3,bandXI3,bandUpI3,bandLoI3,[4.26,8.09],[131.5,306.2],ticksI3,v=>String(v));
txt('I',3,798,{size:15,align:'l'});
txt('R=-0.39, p=0.006',45,805,{size:11,italic:true,align:'l'});
txt('R=-0.38,p=0.0063',286,805,{size:11,italic:true,align:'l'});
txt('R=-0.36, p=0.01',527,805,{size:11,italic:true,align:'l'});
txt('AZD2014_1441',9,867,{size:12,rot:-90});
txt('LY2109761_1852',243,867,{size:12,rot:-90});
txt('AZD1208_1449',484,867,{size:12,rot:-90});
txt('GLDC',127,962,{size:12});txt('GLDC',372,962,{size:12});txt('GLDC',612,962,{size:12});

// ================= J =================
// broken tau axis: left half -100..-74, right half 75..100
const toU=t=>t<0?t+100:26+(t-75)*0.988;
const uPts=a=>a.map(p=>({x:toU(p[0]),y:p[1]}));
const tri=(col,fill)=>({showLine:false,pointStyle:'triangle',pointRadius:2.8,pointBorderWidth:0.8,pointBorderColor:col,pointBackgroundColor:fill});
panel([0,975,704,206],[21,981.7,701,1159.3],{type:'line',data:{datasets:[
  Object.assign({data:uPts(greenPts)},tri('#1e8c1e','rgba(30,140,30,0.4)')),
  Object.assign({data:uPts(redPts)},tri('#ff1a1a','rgba(255,40,40,0.35)')),
  {data:[{x:toU(-90),y:0},{x:toU(-90),y:10}],borderColor:'#3f9f3f',borderWidth:1,borderDash:[4,3],pointRadius:0},
  {data:[{x:26,y:0},{x:26,y:10}],borderColor:'#8a8a8a',borderWidth:1,borderDash:[3,3],pointRadius:0},
  {data:[{x:toU(90),y:0},{x:toU(90),y:10}],borderColor:'#ee5a5a',borderWidth:1,borderDash:[4,3],pointRadius:0},
  {data:[{x:0,y:fdrCut},{x:51,y:fdrCut}],borderColor:'#b5b5b5',borderWidth:0.8,borderDash:[2,2],pointRadius:0},
  {data:[{x:0,y:0},{x:26,y:0}],borderColor:'#94d494',borderWidth:3,pointRadius:0},
  {data:[{x:26,y:0},{x:51,y:0}],borderColor:'#f59090',borderWidth:3,pointRadius:0},
  {data:[{x:0,y:10},{x:toU(-90),y:10}],borderColor:'rgba(0,0,0,0)',pointRadius:0,fill:{value:fdrCut},backgroundColor:'rgba(150,220,140,0.25)'},
  {data:[{x:toU(90),y:10},{x:51,y:10}],borderColor:'rgba(0,0,0,0)',pointRadius:0,fill:{value:fdrCut},backgroundColor:'rgba(236,120,105,0.4)'}]},
 options:{scales:{
  x:{type:'linear',min:0,max:51,afterBuildTicks:setTicks(tauTicks.map(toU)),
   ticks:{callback:(v,i)=>String(tauTicks[i]),autoSkip:false,maxRotation:0,padding:2,font:{size:12},color:'#111'},
   grid:{display:false,drawTicks:false},border:{display:false}},
  y:{display:false,min:0,max:10}}}});
txt('Drug prioritization plot',368,978,{size:12,bold:true});
txt('J',5,984,{size:15,align:'l'});
txt('BEST CANDIDATES',23,988,{size:13.5,align:'l',color:'#86cc86',sx:0.83});
txt('BEST CANDIDATES',570,988,{size:13.5,align:'l',color:'#f07a7a',sx:0.83});
txt('GOOD CANDIDATES',45,1084,{size:4.5,align:'l',color:'#9dc99d'});
txt('GOOD CANDIDATES',574,1084,{size:4.5,align:'l',color:'#e8a0a0'});
txt('-log10(FDR)',8,1063,{size:12,rot:-90});
txt('Association score (tau)',368,1174,{size:12});
</script>
</body></html>
